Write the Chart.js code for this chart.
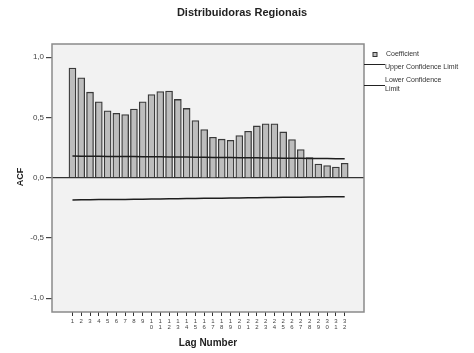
<!DOCTYPE html>
<html>
<head>
<meta charset="utf-8">
<script src="https://cdn.jsdelivr.net/npm/chart.js@4.4.1/dist/chart.umd.min.js"></script>
<style>
  body { margin: 0; background: #fff; }
  canvas { display: block; }
</style>
</head>
<body>
<canvas id="acfChart" width="474" height="353"></canvas>
<script>
const lags = [1, 2, 3, 4, 5, 6, 7, 8, 9, 10, 11, 12, 13, 14, 15, 16,
              17, 18, 19, 20, 21, 22, 23, 24, 25, 26, 27, 28, 29, 30, 31, 32];
const coefficient = [0.91, 0.83, 0.71, 0.63, 0.555, 0.535, 0.525, 0.57, 0.63, 0.69, 0.715, 0.72, 0.65, 0.575, 0.475, 0.40,
                     0.336, 0.32, 0.31, 0.35, 0.386, 0.43, 0.447, 0.447, 0.38, 0.317, 0.233, 0.167, 0.114, 0.10, 0.088, 0.12];
const upperLimit = [0.180, 0.179, 0.179, 0.178, 0.177, 0.176, 0.176, 0.175, 0.174, 0.174, 0.173, 0.172, 0.171, 0.171, 0.170, 0.169,
                    0.168, 0.168, 0.167, 0.166, 0.165, 0.165, 0.164, 0.163, 0.162, 0.162, 0.161, 0.160, 0.159, 0.159, 0.158, 0.157];
const lowerLimit = [-0.185, -0.184, -0.183, -0.182, -0.181, -0.180, -0.180, -0.179, -0.178, -0.177, -0.176, -0.175, -0.174, -0.173, -0.172, -0.171,
                    -0.171, -0.170, -0.169, -0.168, -0.167, -0.166, -0.165, -0.164, -0.163, -0.162, -0.162, -0.161, -0.160, -0.159, -0.158, -0.158];
const yTicks = [-1, -0.5, 0, 0.5, 1];

const FONT = "'Liberation Sans', Arial, sans-serif";

// plot background, border and the extra text (title, axis titles, legend)
const decorPlugin = {
    id: "decor",
    beforeDraw(chart) {
        const { ctx, chartArea: a } = chart;
        ctx.save();
        ctx.fillStyle = "#f2f2f2";
        ctx.fillRect(a.left, a.top, a.right - a.left, a.bottom - a.top);
        ctx.restore();
    },
    afterDraw(chart) {
        const { ctx, chartArea: a } = chart;
        ctx.save();
        ctx.strokeStyle = "#8a8a8a";
        ctx.lineWidth = 1.5;
        ctx.strokeRect(a.left, a.top, a.right - a.left, a.bottom - a.top);

        ctx.fillStyle = "#222";
        ctx.textAlign = "center";
        ctx.textBaseline = "middle";
        ctx.font = "bold 11px " + FONT;
        ctx.fillText("Distribuidoras Regionais", 242, 13);

        ctx.font = "bold 10px " + FONT;
        ctx.fillText("Lag Number", (a.left + a.right) / 2, 343);

        ctx.save();
        ctx.translate(21, 177);
        ctx.rotate(-Math.PI / 2);
        ctx.font = "bold 9px " + FONT;
        ctx.fillText("ACF", 0, 0);
        ctx.restore();

        // legend
        ctx.textAlign = "left";
        ctx.font = "7px " + FONT;
        ctx.fillStyle = "#c0c0c0";
        ctx.fillRect(373, 52.5, 4, 4);
        ctx.strokeStyle = "#333";
        ctx.lineWidth = 1;
        ctx.strokeRect(373, 52.5, 4, 4);
        ctx.fillStyle = "#333";
        ctx.fillText("Coefficient", 386, 54.5);

        ctx.strokeStyle = "#222";
        ctx.beginPath();
        ctx.moveTo(a.right, 64.5);
        ctx.lineTo(385, 64.5);
        ctx.moveTo(a.right, 85.5);
        ctx.lineTo(385, 85.5);
        ctx.stroke();
        ctx.fillText("Upper Confidence Limit", 385, 67.5);
        ctx.fillText("Lower Confidence", 385, 80.5);
        ctx.fillText("Limit", 385, 89);
        ctx.restore();
    }
};

const ctx = document.getElementById("acfChart").getContext("2d");

new Chart(ctx, {
    type: "bar",
    data: {
        datasets: [
            {
                type: "line",
                label: "Upper Confidence Limit",
                data: lags.map((l, i) => ({ x: l, y: upperLimit[i] })),
                borderColor: "#1e1e1e",
                borderWidth: 1.5,
                pointRadius: 0,
                fill: false,
                order: 0
            },
            {
                type: "line",
                label: "Lower Confidence Limit",
                data: lags.map((l, i) => ({ x: l, y: lowerLimit[i] })),
                borderColor: "#1e1e1e",
                borderWidth: 1.5,
                pointRadius: 0,
                fill: false,
                order: 0
            },
            {
                label: "Coefficient",
                data: lags.map((l, i) => ({ x: l, y: coefficient[i] })),
                backgroundColor: "#bdbdbd",
                borderColor: "#3a3a3a",
                borderWidth: 1.3,
                barThickness: 7,
                order: 1
            }
        ]
    },
    options: {
        responsive: false,
        animation: false,
        layout: { padding: { left: 12, right: 110, top: 44, bottom: 11 } },
        plugins: {
            legend: { display: false },
            title: { display: false },
            tooltip: { enabled: false }
        },
        scales: {
            x: {
                type: "linear",
                offset: false,
                min: -1.33,
                max: 34.2,
                afterBuildTicks: scale => { scale.ticks = lags.map(v => ({ value: v })); },
                afterFit: scale => { scale.height = 30; },
                border: { display: false },
                grid: { offset: false, drawOnChartArea: false, tickLength: 4, tickColor: "#333", tickWidth: 1 },
                ticks: {
                    autoSkip: false,
                    maxRotation: 0,
                    padding: 2,
                    color: "#444",
                    font: { family: FONT, size: 6, lineHeight: 1.0 },
                    callback: v => String(v).split("")
                }
            },
            y: {
                min: -1.115,
                max: 1.11,
                afterBuildTicks: scale => { scale.ticks = yTicks.map(v => ({ value: v })); },
                afterFit: scale => { scale.width = 40; },
                border: { display: false },
                grid: {
                    drawOnChartArea: true,
                    color: c => (c.tick && c.tick.value === 0 ? "#333" : "rgba(0,0,0,0)"),
                    lineWidth: 1.2,
                    tickLength: 6,
                    tickColor: "#444"
                },
                ticks: {
                    padding: 2,
                    color: "#444",
                    font: { family: FONT, size: 8 },
                    callback: v => v.toFixed(1).replace(".", ",")
                }
            }
        }
    },
    plugins: [decorPlugin]
});
</script>
</body>
</html>
